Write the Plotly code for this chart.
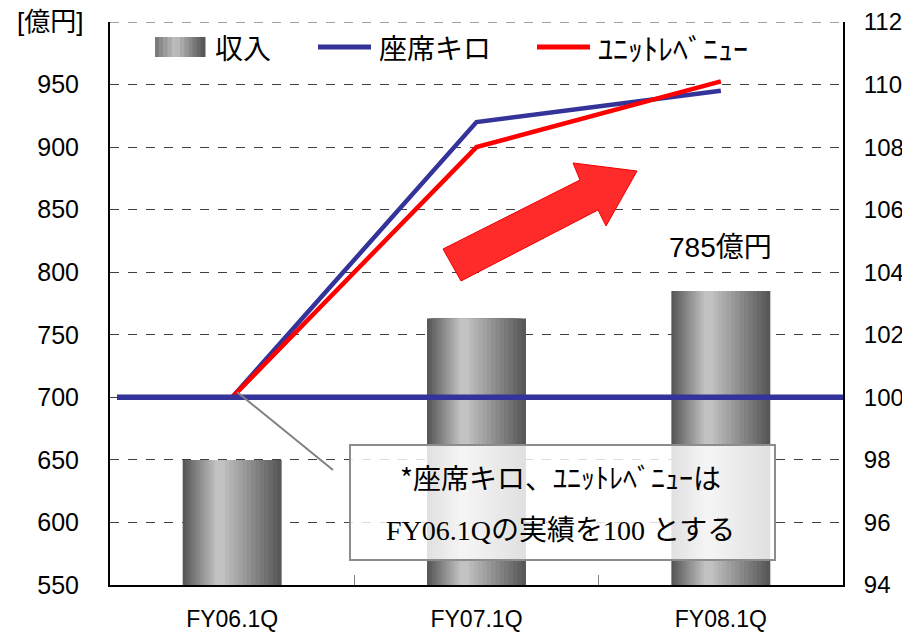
import plotly.graph_objects as go

# data
quarters = ["FY06.1Q", "FY07.1Q", "FY08.1Q"]
revenue = [650, 763, 785]            # 収入 [億円]
seat_km = [100, 108.8, 109.8]        # 座席キロ (FY06.1Q = 100)
unit_rev = [100, 108.0, 110.1]       # ユニットレベニュー (FY06.1Q = 100)
left_ticks = [550, 600, 650, 700, 750, 800, 850, 900, 950]
base_index = 100

# the page puts the figure 8px in from the top-left corner (body margin),
# keep the page inside 910x640 so no scrollbars appear
OFF = 8
W, H = 910 - OFF, 640 - 2 * OFF
PL, PR, PT, PB = 110, 843, 22, 585      # plot area on screen
PW, PH = PR - PL, PB - PT

FONT = "Liberation Sans, Arial, Noto Sans CJK JP, sans-serif"
JP = "Noto Sans CJK JP, sans-serif"
BLUE = "#333399"
RED = "#ff0000"


def px(x, y):
    # screen pixel -> paper coords (decorations only)
    return (x - PL) / PW, (PB - y) / PH


def grey(t):
    g = int(88 + (194 - 88) * t)
    return f"rgb({g},{g},{g})"


fig = go.Figure()

# bars with a horizontal grey gradient: overlaid, narrower and lighter layers
n_layers = 14
bar_w = 0.405
for i in range(n_layers):
    t = i / (n_layers - 1)
    w = bar_w * (1 - 0.9 * t)
    c = -0.05 * t                 # light band sits a bit left of centre
    fig.add_trace(go.Bar(
        x=quarters, y=revenue,
        width=w, offset=c - w / 2,
        marker=dict(color=grey(t), line=dict(width=0)),
        name="収入", showlegend=False,
        hoverinfo="skip" if i else None,
    ))

fig.add_trace(go.Scatter(
    x=quarters, y=seat_km, yaxis="y2", mode="lines",
    line=dict(color=BLUE, width=4.5), name="座席キロ", showlegend=False,
))
fig.add_trace(go.Scatter(
    x=quarters, y=unit_rev, yaxis="y2", mode="lines",
    line=dict(color=RED, width=4.5), name="ﾕﾆｯﾄﾚﾍﾞﾆｭｰ", showlegend=False,
))

shapes = []
# top border at 1000 (dashed like the grid)
shapes.append(dict(type="line", xref="paper", yref="y", x0=0, x1=1, y0=1000, y1=1000,
                   line=dict(color="#404040", width=1, dash="dash")))

# baseline index 100
shapes.append(dict(type="line", xref="paper", yref="y2",
                   x0=px(117, 0)[0], x1=1, y0=base_index, y1=base_index,
                   line=dict(color=BLUE, width=5.5), layer="above"))

# callout line
a, b = px(237, 392), px(333, 470)
shapes.append(dict(type="line", xref="paper", yref="paper",
                   x0=a[0], y0=a[1], x1=b[0], y1=b[1],
                   line=dict(color="#808080", width=2)))

# note box
b0, b1 = px(350, 560), px(775, 445)
shapes.append(dict(type="rect", xref="paper", yref="paper",
                   x0=b0[0], y0=b0[1], x1=b1[0], y1=b1[1],
                   fillcolor="rgba(255,255,255,0.82)",
                   line=dict(color="#8c8c8c", width=2)))

# big red arrow
arrow_px = [(443, 249), (580, 180), (573, 163), (637, 171),
            (606, 226), (598, 210), (461, 281)]
pts = [px(x, y) for x, y in arrow_px]
path = "M " + " L ".join(f"{x:.4f},{y:.4f}" for x, y in pts) + " Z"
shapes.append(dict(type="path", xref="paper", yref="paper", path=path,
                   fillcolor="#ff2a2a", line=dict(color="#ee0000", width=1)))

# legend (drawn by hand to get the wide swatches)
LY = 47
n_sw = 12
for i in range(n_sw):
    u = i / (n_sw - 1)
    t = 1 - abs(u - 0.4) / 0.6
    s0, s1 = px(155 + 50 * i / n_sw, LY + 10), px(155 + 50 * (i + 1) / n_sw + 0.5, LY - 10)
    shapes.append(dict(type="rect", xref="paper", yref="paper",
                       x0=s0[0], y0=s0[1], x1=s1[0], y1=s1[1],
                       fillcolor=grey(max(t, 0)), line=dict(width=0)))
for x0, x1, col in [(318, 371, BLUE), (537, 590, RED)]:
    p0, p1 = px(x0, LY), px(x1, LY)
    shapes.append(dict(type="line", xref="paper", yref="paper",
                       x0=p0[0], y0=p0[1], x1=p1[0], y1=p1[1],
                       line=dict(color=col, width=5)))

annotations = [
    dict(text="[億円]", xref="paper", yref="paper", x=px(50, 0)[0], y=px(0, 22)[1],
         xanchor="center", yanchor="middle",
         showarrow=False, font=dict(size=26, family=FONT, color="black")),
    dict(text="785億円", x="FY08.1Q", y=revenue[2], yshift=26, yanchor="bottom",
         showarrow=False, font=dict(size=28, family=FONT, color="black")),
    dict(text="*座席キロ、ﾕﾆｯﾄﾚﾍﾞﾆｭｰは", xref="paper", yref="paper",
         x=px(560, 0)[0], y=px(0, 477)[1], xanchor="center", yanchor="middle",
         showarrow=False, font=dict(size=28, family=JP, color="black")),
    dict(text="FY06.1Qの実績を100 とする", xref="paper", yref="paper",
         x=px(560, 0)[0], y=px(0, 530)[1], xanchor="center", yanchor="middle",
         showarrow=False,
         font=dict(size=28, family="Liberation Serif, Noto Sans CJK JP, serif", color="black")),
]
for x, label, size in [(213, "収入", 28), (377, "座席キロ", 28), (596, "ﾕﾆｯﾄﾚﾍﾞﾆｭｰ", 30)]:
    annotations.append(dict(text=label, xref="paper", yref="paper",
                            x=px(x, 0)[0], y=px(0, LY)[1], xanchor="left", yanchor="middle",
                            showarrow=False, font=dict(size=size, family=JP, color="black")))

fig.update_layout(
    width=W, height=H,
    margin=dict(l=PL - OFF, r=W + OFF - PR, t=PT - OFF, b=H + OFF - PB),
    paper_bgcolor="white",
    plot_bgcolor="white",
    barmode="overlay",
    font=dict(family=FONT, size=24, color="black"),
    showlegend=False,
    xaxis=dict(type="category", categoryarray=quarters, range=[-0.5, 2.5],
               showline=True, linecolor="black", linewidth=2,
               ticks="inside", tickson="boundaries", ticklen=10,
               tickcolor="#808080", ticklabelstandoff=12, automargin=False,
               tickfont=dict(size=23)),
    yaxis=dict(range=[550, 1000], tickvals=left_ticks, showline=True, linecolor="black",
               linewidth=2, showgrid=True, gridcolor="#404040", griddash="dash",
               gridwidth=1, ticks="", ticklabelstandoff=24, zeroline=False,
               automargin=False, tickfont=dict(size=25)),
    yaxis2=dict(range=[94, 112], dtick=2, overlaying="y", side="right",
                showline=True, linecolor="black", linewidth=2, showgrid=False,
                ticks="", ticklabelstandoff=14, zeroline=False, automargin=False,
                tickfont=dict(size=24)),
    shapes=shapes,
    annotations=annotations,
)

fig.write_html("out.html")
